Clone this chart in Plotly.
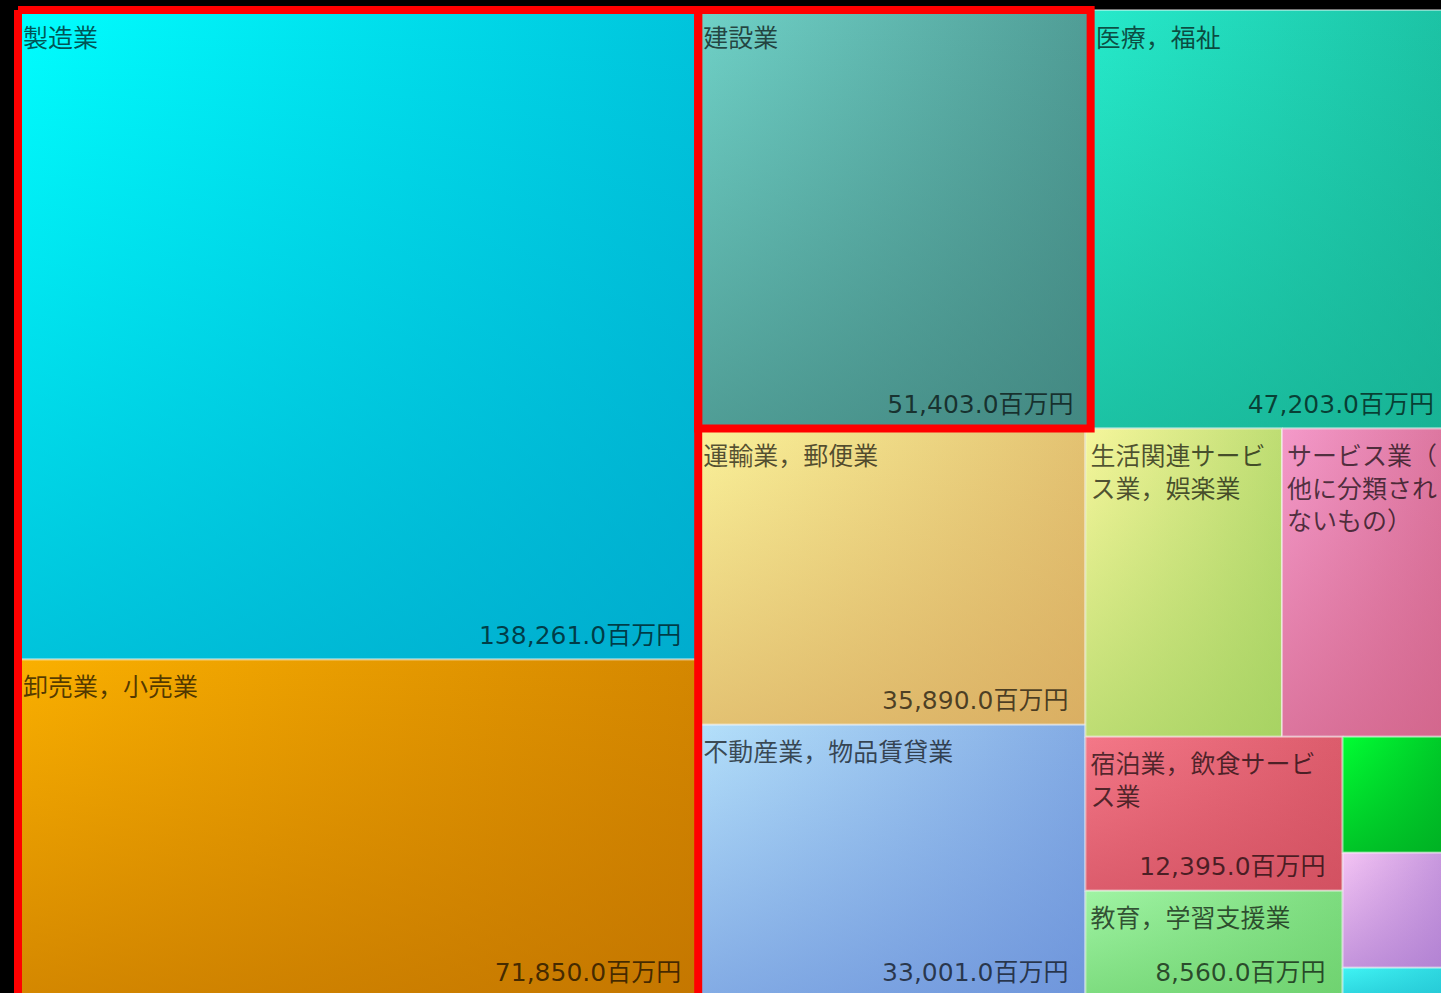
import plotly.graph_objects as go

# ---- data -------------------------------------------------------------
industries = [
    "製造業",
    "卸売業，小売業",
    "建設業",
    "医療，福祉",
    "運輸業，郵便業",
    "不動産業，物品賃貸業",
    "生活関連サービス業，娯楽業",
    "サービス業（他に分類されないもの）",
    "宿泊業，飲食サービス業",
    "教育，学習支援業",
    "学術研究，専門・技術サービス業",
    "情報通信業",
    "金融業，保険業",
]
values = [138261.0, 71850.0, 51403.0, 47203.0, 35890.0, 33001.0,
          18950.0, 16300.0, 12395.0, 8560.0, 3940.0, 3900.0, 990.0]
unit = "百万円"
highlighted = [["製造業", "卸売業，小売業"], ["建設業"]]

# ---- styles -----------------------------------------------------------
light_colors = ["#00FFFF", "#FAB000", "#70D2C8", "#26EACB", "#FAF29A", "#B4E0FA",
                "#F6F69C", "#F49ACA", "#F47888", "#A0F4A4", "#00FF33", "#F4C4F4", "#40F4F4"]
dark_colors = ["#009CC4", "#BA6C00", "#3A7A74", "#15A88A", "#D4A258", "#6288D6",
               "#98CC58", "#CC5C80", "#CC4A5A", "#66CC66", "#00A020", "#A474CC", "#20C0D0"]

VIEW_W, VIEW_H = 1441, 993              # visible canvas (pixel-like units)
AREA = (18, 10, 1451, 997)              # treemap extent; runs past the right/bottom edges
FONT_SIZE = 25
TEXT_COLOR = "rgba(0,0,0,0.66)"
PAD_LEFT, PAD_TOP = 5, 18
PAD_RIGHT, PAD_BOTTOM = 17, 22
PHI = (1 + 5 ** 0.5) / 2


def squarify(vals, x0, y0, x1, y1, ratio=PHI):
    """Squarified treemap (golden-ratio target), rows laid along the short side."""
    rects = [None] * len(vals)
    n = len(vals)
    i0 = i1 = 0
    remaining = float(sum(vals))
    while i0 < n:
        dx, dy = x1 - x0, y1 - y0
        row_sum = vals[i1]
        i1 += 1
        vmin = vmax = row_sum
        alpha = max(dy / dx, dx / dy) / (remaining * ratio)
        beta = row_sum * row_sum * alpha
        best = max(vmax / beta, beta / vmin)
        while i1 < n:
            v = vals[i1]
            s = row_sum + v
            mn, mx = min(vmin, v), max(vmax, v)
            beta = s * s * alpha
            r = max(mx / beta, beta / mn)
            if r > best:
                break
            row_sum, vmin, vmax, best = s, mn, mx, r
            i1 += 1
        if dx < dy:      # row across the top
            yb = y0 + dy * row_sum / remaining
            xx = x0
            for i in range(i0, i1):
                w = dx * vals[i] / row_sum
                rects[i] = (xx, y0, xx + w, yb)
                xx += w
            y0 = yb
        else:            # column down the left
            xb = x0 + dx * row_sum / remaining
            yy = y0
            for i in range(i0, i1):
                h = dy * vals[i] / row_sum
                rects[i] = (x0, yy, xb, yy + h)
                yy += h
            x0 = xb
        remaining -= row_sum
        i0 = i1
    return rects


def hex_rgb(h):
    h = h.lstrip("#")
    return tuple(int(h[i:i + 2], 16) for i in (0, 2, 4))


def mix(a, b, t):
    ca, cb = hex_rgb(a), hex_rgb(b)
    return "rgb(%d,%d,%d)" % tuple(round(ca[k] + (cb[k] - ca[k]) * t) for k in range(3))


def rgba(h, alpha):
    r, g, b = hex_rgb(h)
    return "rgba(%d,%d,%d,%.3f)" % (r, g, b, alpha)


def value_text(v):
    return f"{v:,.1f}{unit}"


def value_text_width(s):
    w = 0.0
    for ch in s:
        if ch.isdigit():
            w += 0.636
        elif ch in ",.":
            w += 0.318
        else:
            w += 1.0
    return w * FONT_SIZE


rects = squarify(values, *AREA)

fig = go.Figure()

# tiles: horizontal gradient base + vertical shading overlay gives a diagonal fade
for i, (x0, y0, x1, y1) in enumerate(rects):
    px = [x0, x1, x1, x0, x0]
    py = [y0, y0, y1, y1, y0]
    fig.add_trace(go.Scatter(
        x=px, y=py, mode="lines", fill="toself", line=dict(width=0),
        fillgradient=dict(type="horizontal",
                          colorscale=[[0, light_colors[i]],
                                      [1, mix(light_colors[i], dark_colors[i], 0.6)]]),
        hoverinfo="skip", showlegend=False))
    # y axis runs downward, so the low end of this scale sits at the tile bottom
    fig.add_trace(go.Scatter(
        x=px, y=py, mode="lines", fill="toself",
        line=dict(width=2, color="rgba(255,255,255,0.45)"),
        fillgradient=dict(type="vertical",
                          colorscale=[[0, rgba(dark_colors[i], 0.6)],
                                      [1, rgba(dark_colors[i], 0.0)]]),
        name=industries[i], text=value_text(values[i]),
        hovertemplate="%{fullData.name}<br>%{text}<extra></extra>",
        showlegend=False))

# labels: name at top-left (wrapped), value at bottom-right
name_x, name_y, name_t = [], [], []
val_x, val_y, val_t = [], [], []
for i, (x0, y0, x1, y1) in enumerate(rects):
    w, h = x1 - x0, y1 - y0
    if w >= 150 and h >= 60:
        per_line = max(1, int((w - 2 * PAD_LEFT) // FONT_SIZE))
        label = industries[i]
        lines = [label[k:k + per_line] for k in range(0, len(label), per_line)]
        name_x.append(x0 + PAD_LEFT)
        name_y.append(y0 + PAD_TOP)
        name_t.append("<br>".join(lines))
    vt = value_text(values[i])
    if w >= value_text_width(vt) + 2 * PAD_RIGHT and h >= 90:
        val_x.append(x1 - PAD_RIGHT)
        val_y.append(y1 - PAD_BOTTOM)
        val_t.append(vt)

fig.add_trace(go.Scatter(
    x=name_x, y=name_y, text=name_t, mode="text", textposition="bottom right",
    textfont=dict(family="Noto Sans CJK JP", size=FONT_SIZE, color=TEXT_COLOR),
    hoverinfo="skip", showlegend=False, cliponaxis=True))
fig.add_trace(go.Scatter(
    x=val_x, y=val_y, text=val_t, mode="text", textposition="middle left",
    textfont=dict(family="DejaVu Sans, Noto Sans CJK JP", size=FONT_SIZE, color=TEXT_COLOR),
    hoverinfo="skip", showlegend=False, cliponaxis=True))

# red outlines around the highlighted groups
for group in highlighted:
    idx = [industries.index(g) for g in group]
    gx0 = min(rects[k][0] for k in idx)
    gy0 = min(rects[k][1] for k in idx)
    gx1 = max(rects[k][2] for k in idx)
    gy1 = max(rects[k][3] for k in idx)
    fig.add_trace(go.Scatter(
        x=[gx0, gx1, gx1, gx0, gx0], y=[gy0, gy0, gy1, gy1, gy0],
        mode="lines", line=dict(color="#FF0000", width=8),
        hoverinfo="skip", showlegend=False))

fig.update_layout(
    width=VIEW_W, height=VIEW_H,
    margin=dict(l=0, r=0, t=0, b=0),
    paper_bgcolor="black", plot_bgcolor="black",
    xaxis=dict(range=[0, VIEW_W], visible=False, fixedrange=True),
    yaxis=dict(range=[VIEW_H, 0], visible=False, fixedrange=True),
    showlegend=False,
)

fig.write_html("out.html")
